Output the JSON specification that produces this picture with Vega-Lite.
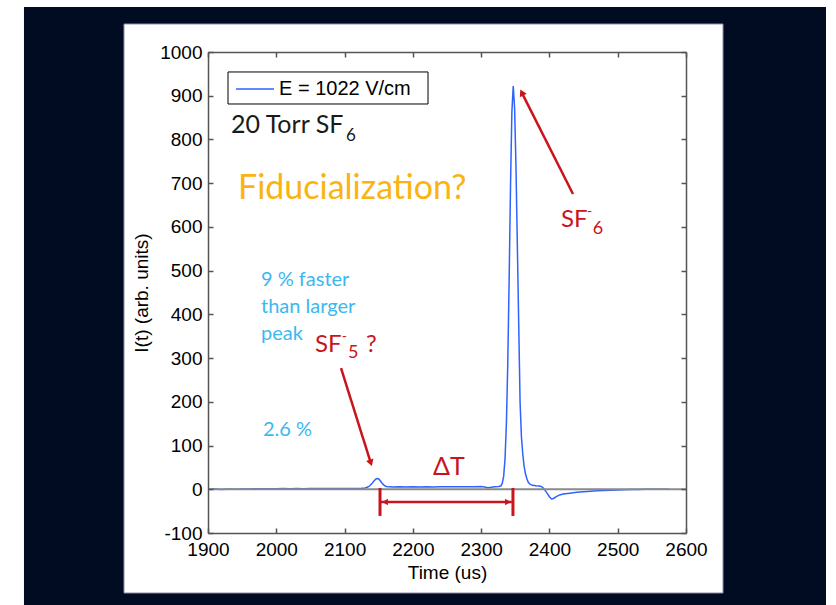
{
  "$schema": "https://vega.github.io/schema/vega-lite/v6.json",
  "width": 478,
  "height": 481,
  "autosize": {"type": "none"},
  "padding": {"left": 208, "top": 52, "right": 150, "bottom": 72},
  "background": "white",
  "data": {"values": [{}]},
  "config": {
    "view": {"stroke": null},
    "axis": {
      "domainColor": "#555555",
      "tickColor": "#555555",
      "domainWidth": 1.5,
      "tickWidth": 1.5,
      "tickSize": -5,
      "grid": false,
      "labelOverlap": false,
      "labelFlush": false,
      "labelFont": "Liberation Sans",
      "labelFontSize": 19,
      "labelColor": "#000000",
      "titleFont": "Liberation Sans",
      "titleFontSize": 19,
      "titleFontWeight": "normal",
      "titleColor": "#000000"
    },
    "text": {"font": "Lato", "align": "left", "baseline": "alphabetic"}
  },
  "datasets": {
    "trace": [
      {"t": 1900, "i": 0}, {"t": 1910, "i": 0.5}, {"t": 1920, "i": -0.3}, {"t": 1930, "i": 0.4},
      {"t": 1940, "i": 0}, {"t": 1950, "i": 0.6}, {"t": 1960, "i": 0.8}, {"t": 1970, "i": 1.2},
      {"t": 1980, "i": 1}, {"t": 1990, "i": 1.4}, {"t": 2000, "i": 1.2}, {"t": 2010, "i": 1.5},
      {"t": 2020, "i": 1.3}, {"t": 2030, "i": 1.6}, {"t": 2040, "i": 1.4}, {"t": 2050, "i": 1.8},
      {"t": 2060, "i": 1.5}, {"t": 2070, "i": 1.7}, {"t": 2080, "i": 1.6}, {"t": 2090, "i": 1.9},
      {"t": 2100, "i": 1.7}, {"t": 2110, "i": 2}, {"t": 2120, "i": 1.8}, {"t": 2125, "i": 2.2},
      {"t": 2130, "i": 3}, {"t": 2134, "i": 5}, {"t": 2137, "i": 8}, {"t": 2140, "i": 13},
      {"t": 2143, "i": 19}, {"t": 2146, "i": 23.5}, {"t": 2148, "i": 24.5}, {"t": 2150, "i": 23.5},
      {"t": 2152, "i": 20}, {"t": 2155, "i": 14}, {"t": 2158, "i": 9}, {"t": 2161, "i": 6.5},
      {"t": 2165, "i": 5.5}, {"t": 2170, "i": 5}, {"t": 2180, "i": 5.5}, {"t": 2190, "i": 5},
      {"t": 2200, "i": 5.5}, {"t": 2210, "i": 5.2}, {"t": 2220, "i": 5.6}, {"t": 2230, "i": 5.3},
      {"t": 2240, "i": 5.6}, {"t": 2250, "i": 5.5}, {"t": 2260, "i": 5.8}, {"t": 2270, "i": 5.6},
      {"t": 2280, "i": 6}, {"t": 2290, "i": 5.8}, {"t": 2300, "i": 6.2}, {"t": 2305, "i": 5},
      {"t": 2310, "i": 3.5}, {"t": 2315, "i": 4.5}, {"t": 2320, "i": 6}, {"t": 2326, "i": 6.5},
      {"t": 2329, "i": 8}, {"t": 2331, "i": 14}, {"t": 2333, "i": 30}, {"t": 2335, "i": 70},
      {"t": 2337, "i": 151}, {"t": 2339, "i": 288}, {"t": 2341, "i": 479}, {"t": 2343, "i": 692},
      {"t": 2345, "i": 862}, {"t": 2347, "i": 922}, {"t": 2349, "i": 872}, {"t": 2351, "i": 738},
      {"t": 2353, "i": 560}, {"t": 2355, "i": 379}, {"t": 2357, "i": 200}, {"t": 2359, "i": 120},
      {"t": 2361, "i": 80}, {"t": 2363, "i": 52}, {"t": 2365, "i": 35}, {"t": 2367, "i": 24},
      {"t": 2369, "i": 16}, {"t": 2372, "i": 11}, {"t": 2375, "i": 9}, {"t": 2380, "i": 8},
      {"t": 2385, "i": 7.5}, {"t": 2388, "i": 6.5}, {"t": 2391, "i": 3}, {"t": 2394, "i": -3},
      {"t": 2397, "i": -10}, {"t": 2400, "i": -17}, {"t": 2403, "i": -22}, {"t": 2406, "i": -21},
      {"t": 2410, "i": -17}, {"t": 2415, "i": -13}, {"t": 2420, "i": -11}, {"t": 2430, "i": -9},
      {"t": 2440, "i": -7}, {"t": 2450, "i": -5.5}, {"t": 2460, "i": -4.5}, {"t": 2470, "i": -3.5},
      {"t": 2480, "i": -3}, {"t": 2490, "i": -2}, {"t": 2500, "i": -1.5}, {"t": 2510, "i": -1},
      {"t": 2520, "i": -0.5}, {"t": 2530, "i": -0.3}, {"t": 2540, "i": 0}, {"t": 2550, "i": 0.3},
      {"t": 2560, "i": 0}, {"t": 2570, "i": 0.2}, {"t": 2575, "i": 0}
    ]
  },
  "layer": [
    {
      "mark": {"type": "rect", "color": "#010b22"},
      "encoding": {
        "x": {"datum": 1630.5, "type": "quantitative", "axis": null},
        "x2": {"datum": 2805},
        "y": {"datum": 1102.9, "type": "quantitative", "axis": null},
        "y2": {"datum": -264.7}
      }
    },
    {
      "mark": {"type": "rect", "color": "#ffffff", "stroke": "#8d93a3", "strokeWidth": 1},
      "encoding": {
        "x": {"datum": 1777, "type": "quantitative", "axis": null},
        "x2": {"datum": 2654.2},
        "y": {"datum": 1064, "type": "quantitative", "axis": null},
        "y2": {"datum": -237.2}
      }
    },
    {
      "data": {"name": "trace"},
      "mark": {"type": "line", "color": "#2f62ff", "strokeWidth": 1.5},
      "encoding": {
        "x": {
          "field": "t", "type": "quantitative",
          "scale": {"domain": [1900, 2600], "nice": false, "zero": false},
          "axis": {
            "orient": "bottom",
            "zindex": 2,
            "values": [1900, 2000, 2100, 2200, 2300, 2400, 2500, 2600],
            "labelExpr": "'' + datum.value",
            "labelPadding": 12,
            "title": "Time (us)",
            "titlePadding": 4
          }
        },
        "y": {
          "field": "i", "type": "quantitative",
          "scale": {"domain": [-100, 1000], "nice": false, "zero": false},
          "axis": {
            "orient": "left",
            "zindex": 2,
            "values": [-100, 0, 100, 200, 300, 400, 500, 600, 700, 800, 900, 1000],
            "labelExpr": "'' + datum.value",
            "labelPadding": 11,
            "title": "I(t) (arb. units)",
            "titlePadding": 8
          }
        }
      }
    },
    {
      "mark": {"type": "rule", "color": "#8a8a8a", "strokeWidth": 2},
      "encoding": {
        "x": {
          "datum": 1900, "type": "quantitative",
          "axis": {
            "orient": "top",
            "zindex": 2,
            "values": [1900, 2000, 2100, 2200, 2300, 2400, 2500, 2600],
            "labels": false,
            "title": null
          }
        },
        "x2": {"datum": 2600},
        "y": {
          "datum": 0, "type": "quantitative",
          "axis": {
            "orient": "right",
            "zindex": 2,
            "values": [-100, 0, 100, 200, 300, 400, 500, 600, 700, 800, 900, 1000],
            "labels": false,
            "title": null
          }
        }
      }
    },
    {
      "mark": {"type": "rect", "fill": "#ffffff", "stroke": "#000000", "strokeWidth": 1},
      "encoding": {
        "x": {"datum": 1929.3, "type": "quantitative", "axis": null},
        "x2": {"datum": 2222.2},
        "y": {"datum": 954.3, "type": "quantitative", "axis": null},
        "y2": {"datum": 881.1}
      }
    },
    {
      "mark": {"type": "rule", "color": "#2f62ff", "strokeWidth": 1.5},
      "encoding": {
        "x": {"datum": 1941, "type": "quantitative", "axis": null},
        "x2": {"datum": 1996.7},
        "y": {"datum": 915.4, "type": "quantitative", "axis": null}
      }
    },
    {
      "mark": {"type": "text", "text": "E = 1022 V/cm", "font": "Liberation Sans", "fontSize": 20, "color": "#000000"},
      "encoding": {
        "x": {"datum": 2004, "type": "quantitative", "axis": null},
        "y": {"datum": 901.7, "type": "quantitative", "axis": null}
      }
    },
    {
      "mark": {"type": "text", "text": "20 Torr SF", "fontSize": 25, "color": "#1a1a1a"},
      "encoding": {
        "x": {"datum": 1933.7, "type": "quantitative", "axis": null},
        "y": {"datum": 814.8, "type": "quantitative", "axis": null}
      }
    },
    {
      "mark": {"type": "text", "text": "6", "fontSize": 17, "color": "#1a1a1a"},
      "encoding": {
        "x": {"datum": 2102.1, "type": "quantitative", "axis": null},
        "y": {"datum": 796.5, "type": "quantitative", "axis": null}
      }
    },
    {
      "mark": {"type": "text", "text": "Fiducialization?", "fontSize": 34, "color": "#fbb40f"},
      "encoding": {
        "x": {"datum": 1943.9, "type": "quantitative", "axis": null},
        "y": {"datum": 663.8, "type": "quantitative", "axis": null}
      }
    },
    {
      "mark": {"type": "text", "text": "SF", "fontSize": 24, "color": "#c8141c"},
      "encoding": {
        "x": {"datum": 2416.9, "type": "quantitative", "axis": null},
        "y": {"datum": 599.8, "type": "quantitative", "axis": null}
      }
    },
    {
      "mark": {"type": "text", "text": "-", "fontSize": 14, "color": "#c8141c"},
      "encoding": {
        "x": {"datum": 2455, "type": "quantitative", "axis": null},
        "y": {"datum": 624.9, "type": "quantitative", "axis": null}
      }
    },
    {
      "mark": {"type": "text", "text": "6", "fontSize": 18, "color": "#c8141c"},
      "encoding": {
        "x": {"datum": 2463.5, "type": "quantitative", "axis": null},
        "y": {"datum": 583.8, "type": "quantitative", "axis": null}
      }
    },
    {
      "mark": {"type": "rule", "color": "#c8141c", "strokeWidth": 2.5},
      "encoding": {
        "x": {"datum": 2434.5, "type": "quantitative", "axis": null},
        "y": {"datum": 675.3, "type": "quantitative", "axis": null},
        "x2": {"datum": 2359.5},
        "y2": {"datum": 907.2}
      }
    },
    {
      "mark": {"type": "point", "shape": "triangle-up", "angle": 333, "size": 60, "filled": true, "opacity": 1, "color": "#c8141c"},
      "encoding": {
        "x": {"datum": 2359.5, "type": "quantitative", "axis": null},
        "y": {"datum": 907.2, "type": "quantitative", "axis": null}
      }
    },
    {
      "mark": {"type": "text", "text": ["9 % faster", "than larger", "peak"], "lineHeight": 27, "fontSize": 20, "color": "#3bb8f0"},
      "encoding": {
        "x": {"datum": 1977.6, "type": "quantitative", "axis": null},
        "y": {"datum": 464.9, "type": "quantitative", "axis": null}
      }
    },
    {
      "mark": {"type": "text", "text": "2.6 %", "fontSize": 20, "color": "#3bb8f0"},
      "encoding": {
        "x": {"datum": 1980.5, "type": "quantitative", "axis": null},
        "y": {"datum": 121.8, "type": "quantitative", "axis": null}
      }
    },
    {
      "mark": {"type": "text", "text": "SF", "fontSize": 24, "color": "#c8141c"},
      "encoding": {
        "x": {"datum": 2056.7, "type": "quantitative", "axis": null},
        "y": {"datum": 313.9, "type": "quantitative", "axis": null}
      }
    },
    {
      "mark": {"type": "text", "text": "-", "fontSize": 14, "color": "#c8141c"},
      "encoding": {
        "x": {"datum": 2095.8, "type": "quantitative", "axis": null},
        "y": {"datum": 339.1, "type": "quantitative", "axis": null}
      }
    },
    {
      "mark": {"type": "text", "text": "5", "fontSize": 18, "color": "#c8141c"},
      "encoding": {
        "x": {"datum": 2105.0, "type": "quantitative", "axis": null},
        "y": {"datum": 300.2, "type": "quantitative", "axis": null}
      }
    },
    {
      "mark": {"type": "text", "text": "?", "fontSize": 24, "color": "#c8141c"},
      "encoding": {
        "x": {"datum": 2131.4, "type": "quantitative", "axis": null},
        "y": {"datum": 313.9, "type": "quantitative", "axis": null}
      }
    },
    {
      "mark": {"type": "rule", "color": "#c8141c", "strokeWidth": 2.5},
      "encoding": {
        "x": {"datum": 2094.8, "type": "quantitative", "axis": null},
        "y": {"datum": 277.3, "type": "quantitative", "axis": null},
        "x2": {"datum": 2138.4},
        "y2": {"datum": 60.3}
      }
    },
    {
      "mark": {"type": "point", "shape": "triangle-up", "angle": 162, "size": 60, "filled": true, "opacity": 1, "color": "#c8141c"},
      "encoding": {
        "x": {"datum": 2138.4, "type": "quantitative", "axis": null},
        "y": {"datum": 60.3, "type": "quantitative", "axis": null}
      }
    },
    {
      "mark": {"type": "text", "text": "ΔT", "fontSize": 25, "color": "#c8141c"},
      "encoding": {
        "x": {"datum": 2229.5, "type": "quantitative", "axis": null},
        "y": {"datum": 32.6, "type": "quantitative", "axis": null}
      }
    },
    {
      "mark": {"type": "rule", "color": "#c8141c", "strokeWidth": 3},
      "encoding": {
        "x": {"datum": 2151.9, "type": "quantitative", "axis": null},
        "y": {"datum": 3, "type": "quantitative", "axis": null},
        "y2": {"datum": -61}
      }
    },
    {
      "mark": {"type": "rule", "color": "#c8141c", "strokeWidth": 3},
      "encoding": {
        "x": {"datum": 2346.6, "type": "quantitative", "axis": null},
        "y": {"datum": 3, "type": "quantitative", "axis": null},
        "y2": {"datum": -61}
      }
    },
    {
      "mark": {"type": "rule", "color": "#c8141c", "strokeWidth": 2.5},
      "encoding": {
        "x": {"datum": 2153, "type": "quantitative", "axis": null},
        "x2": {"datum": 2345},
        "y": {"datum": -29.1, "type": "quantitative", "axis": null}
      }
    },
    {
      "mark": {"type": "point", "shape": "triangle-up", "angle": 270, "size": 45, "filled": true, "opacity": 1, "color": "#c8141c"},
      "encoding": {
        "x": {"datum": 2159.2, "type": "quantitative", "axis": null},
        "y": {"datum": -29.1, "type": "quantitative", "axis": null}
      }
    },
    {
      "mark": {"type": "point", "shape": "triangle-up", "angle": 90, "size": 45, "filled": true, "opacity": 1, "color": "#c8141c"},
      "encoding": {
        "x": {"datum": 2339.3, "type": "quantitative", "axis": null},
        "y": {"datum": -29.1, "type": "quantitative", "axis": null}
      }
    }
  ],
  "resolve": {"axis": {"x": "independent", "y": "independent"}}
}
